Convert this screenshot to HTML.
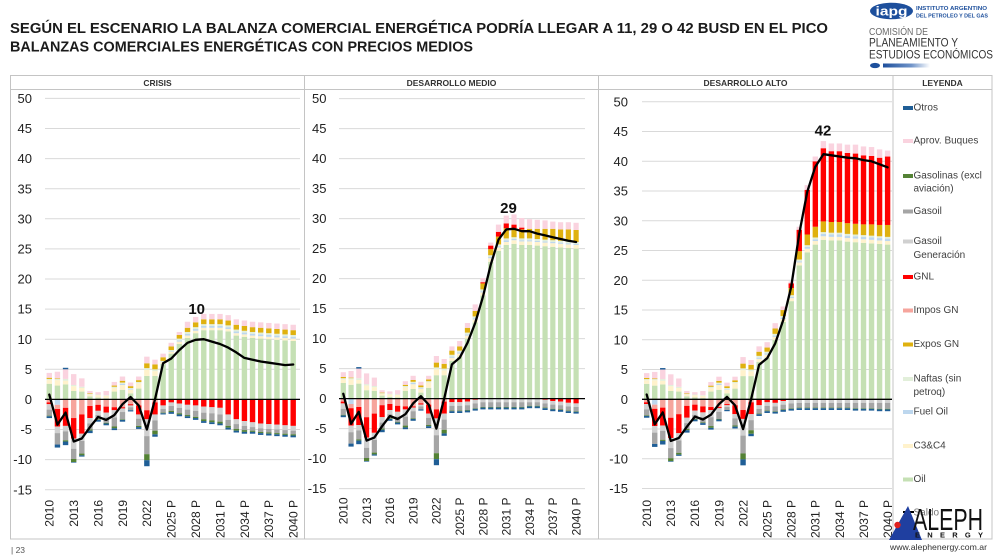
<!DOCTYPE html>
<html>
<head>
<meta charset="utf-8">
<style>
  html,body{margin:0;padding:0;background:#fff;}
  svg{display:block;font-family:"Liberation Sans",Arial,sans-serif;}
</style>
</head>
<body>
<svg id="root" xmlns="http://www.w3.org/2000/svg" width="1000" height="558" viewBox="0 0 1000 558">
  <rect x="0" y="0" width="1000" height="558" fill="#ffffff"/>

  <!-- Title -->
  <text x="10" y="33" font-size="14.5" font-weight="bold" fill="#1b1b1b" textLength="818" lengthAdjust="spacingAndGlyphs">SEGÚN EL ESCENARIO LA BALANZA COMERCIAL ENERGÉTICA PODRÍA LLEGAR A 11, 29 O 42 BUSD EN EL PICO</text>
  <text x="10" y="51.5" font-size="14.5" font-weight="bold" fill="#1b1b1b" textLength="463" lengthAdjust="spacingAndGlyphs">BALANZAS COMERCIALES ENERGÉTICAS CON PRECIOS MEDIOS</text>

  <!-- IAPG logo -->
  <ellipse cx="891.5" cy="11" rx="21.5" ry="8.3" fill="#1d4f9c"/>
  <text x="891.5" y="15.5" font-size="12.5" font-weight="bold" fill="#ffffff" text-anchor="middle" textLength="32" lengthAdjust="spacingAndGlyphs">iapg</text>
  <text x="916" y="10" font-size="5.6" font-weight="bold" fill="#1d4f9c" textLength="71" lengthAdjust="spacingAndGlyphs">INSTITUTO ARGENTINO</text>
  <text x="916" y="17.3" font-size="5.6" font-weight="bold" fill="#1d4f9c" textLength="72" lengthAdjust="spacingAndGlyphs">DEL PETROLEO Y DEL GAS</text>
  <text x="869" y="35" font-size="10.5" fill="#6a6a6a" textLength="59" lengthAdjust="spacingAndGlyphs">COMISIÓN DE</text>
  <text x="869" y="46.7" font-size="11.5" fill="#333333" textLength="89" lengthAdjust="spacingAndGlyphs">PLANEAMIENTO Y</text>
  <text x="869" y="58.7" font-size="11.5" fill="#333333" textLength="124" lengthAdjust="spacingAndGlyphs">ESTUDIOS ECONÓMICOS</text>
  <defs>
    <linearGradient id="gb" x1="0" x2="1" y1="0" y2="0">
      <stop offset="0" stop-color="#1d4f9c"/>
      <stop offset="0.6" stop-color="#6f93c8"/>
      <stop offset="1" stop-color="#ffffff"/>
    </linearGradient>
  </defs>
  <ellipse cx="875" cy="65.5" rx="5" ry="2.6" fill="#1d4f9c"/>
  <rect x="883" y="63.5" width="47" height="4" fill="url(#gb)"/>

  <!-- Table frame -->
  <g stroke="#c4c4c4" stroke-width="1" fill="none">
    <rect x="10.5" y="75.5" width="981.5" height="463.5"/>
    <line x1="10.5" y1="89.5" x2="992" y2="89.5"/>
    <line x1="304.5" y1="75.5" x2="304.5" y2="539"/>
    <line x1="598.5" y1="75.5" x2="598.5" y2="539"/>
    <line x1="893" y1="75.5" x2="893" y2="539"/>
  </g>
  <g font-size="8.5" font-weight="bold" fill="#333" text-anchor="middle">
    <text x="157.5" y="86">CRISIS</text>
    <text x="451.5" y="86">DESARROLLO MEDIO</text>
    <text x="745.5" y="86">DESARROLLO ALTO</text>
    <text x="942.5" y="86">LEYENDA</text>
  </g>

  <!-- chart graphics generated -->
  <g id="grid"></g>
  <g id="bars"></g>
  <g id="zero"></g>
  <g id="lines"></g>

  <!-- Y axis labels: left -->
  <g font-size="13" fill="#222" text-anchor="end">
    <text x="32" y="103.0">50</text>
    <text x="32" y="133.1">45</text>
    <text x="32" y="163.2">40</text>
    <text x="32" y="193.3">35</text>
    <text x="32" y="223.4">30</text>
    <text x="32" y="253.5">25</text>
    <text x="32" y="283.6">20</text>
    <text x="32" y="313.7">15</text>
    <text x="32" y="343.8">10</text>
    <text x="32" y="373.9">5</text>
    <text x="32" y="404.0">0</text>
    <text x="32" y="434.1">-5</text>
    <text x="32" y="464.2">-10</text>
    <text x="32" y="494.3">-15</text>
  </g>
  <!-- Y axis labels: middle -->
  <g font-size="13" fill="#222" text-anchor="end">
    <text x="326.5" y="103.2">50</text>
    <text x="326.5" y="133.2">45</text>
    <text x="326.5" y="163.2">40</text>
    <text x="326.5" y="193.2">35</text>
    <text x="326.5" y="223.2">30</text>
    <text x="326.5" y="253.2">25</text>
    <text x="326.5" y="283.2">20</text>
    <text x="326.5" y="313.2">15</text>
    <text x="326.5" y="343.2">10</text>
    <text x="326.5" y="373.2">5</text>
    <text x="326.5" y="403.2">0</text>
    <text x="326.5" y="433.2">-5</text>
    <text x="326.5" y="463.2">-10</text>
    <text x="326.5" y="493.2">-15</text>
  </g>
  <!-- Y axis labels: right -->
  <g font-size="13" fill="#222" text-anchor="end">
    <text x="628" y="106.4">50</text>
    <text x="628" y="136.2">45</text>
    <text x="628" y="165.9">40</text>
    <text x="628" y="195.7">35</text>
    <text x="628" y="225.4">30</text>
    <text x="628" y="255.2">25</text>
    <text x="628" y="284.9">20</text>
    <text x="628" y="314.7">15</text>
    <text x="628" y="344.4">10</text>
    <text x="628" y="374.2">5</text>
    <text x="628" y="403.9">0</text>
    <text x="628" y="433.7">-5</text>
    <text x="628" y="463.4">-10</text>
    <text x="628" y="493.2">-15</text>
  </g>

  <!-- X axis labels: left -->
  <g font-size="12" fill="#222" text-anchor="end">
    <text transform="translate(53.6,500) rotate(-90)">2010</text>
    <text transform="translate(78.0,500) rotate(-90)">2013</text>
    <text transform="translate(102.4,500) rotate(-90)">2016</text>
    <text transform="translate(126.8,500) rotate(-90)">2019</text>
    <text transform="translate(151.2,500) rotate(-90)">2022</text>
    <text transform="translate(175.6,500) rotate(-90)">2025 P</text>
    <text transform="translate(200.0,500) rotate(-90)">2028 P</text>
    <text transform="translate(224.4,500) rotate(-90)">2031 P</text>
    <text transform="translate(248.8,500) rotate(-90)">2034 P</text>
    <text transform="translate(273.2,500) rotate(-90)">2037 P</text>
    <text transform="translate(297.5,500) rotate(-90)">2040 P</text>
  </g>
  <!-- X axis labels: middle -->
  <g font-size="12" fill="#222" text-anchor="end">
    <text transform="translate(347.6,497.5) rotate(-90)">2010</text>
    <text transform="translate(370.9,497.5) rotate(-90)">2013</text>
    <text transform="translate(394.2,497.5) rotate(-90)">2016</text>
    <text transform="translate(417.4,497.5) rotate(-90)">2019</text>
    <text transform="translate(440.7,497.5) rotate(-90)">2022</text>
    <text transform="translate(464.0,497.5) rotate(-90)">2025 P</text>
    <text transform="translate(487.3,497.5) rotate(-90)">2028 P</text>
    <text transform="translate(510.6,497.5) rotate(-90)">2031 P</text>
    <text transform="translate(533.8,497.5) rotate(-90)">2034 P</text>
    <text transform="translate(557.1,497.5) rotate(-90)">2037 P</text>
    <text transform="translate(580.4,497.5) rotate(-90)">2040 P</text>
  </g>
  <!-- X axis labels: right -->
  <g font-size="12" fill="#222" text-anchor="end">
    <text transform="translate(651.0,500) rotate(-90)">2010</text>
    <text transform="translate(675.1,500) rotate(-90)">2013</text>
    <text transform="translate(699.2,500) rotate(-90)">2016</text>
    <text transform="translate(723.3,500) rotate(-90)">2019</text>
    <text transform="translate(747.4,500) rotate(-90)">2022</text>
    <text transform="translate(771.5,500) rotate(-90)">2025 P</text>
    <text transform="translate(795.6,500) rotate(-90)">2028 P</text>
    <text transform="translate(819.7,500) rotate(-90)">2031 P</text>
    <text transform="translate(843.8,500) rotate(-90)">2034 P</text>
    <text transform="translate(867.9,500) rotate(-90)">2037 P</text>
    <text transform="translate(891.9,500) rotate(-90)">2040 P</text>
  </g>

  <!-- Peak annotations -->
  <g font-size="15" font-weight="bold" fill="#111" text-anchor="middle">
    <text x="196.7" y="314">10</text>
    <text x="508.5" y="213">29</text>
    <text x="823" y="135.5">42</text>
  </g>

  <!-- Legend -->
  <g>
    <rect x="903" y="106" width="10" height="4" fill="#1f5e96"/>
    <rect x="903" y="139" width="10" height="4" fill="#fad3df"/>
    <rect x="903" y="174" width="10" height="4" fill="#548235"/>
    <rect x="903" y="209.5" width="10" height="4" fill="#a5a5a5"/>
    <rect x="903" y="239.5" width="10" height="4" fill="#d0d0d0"/>
    <rect x="903" y="275" width="10" height="4" fill="#ff0000"/>
    <rect x="903" y="308.5" width="10" height="4" fill="#f6a59d"/>
    <rect x="903" y="342.5" width="10" height="4" fill="#dfb10f"/>
    <rect x="903" y="377" width="10" height="4" fill="#e2efda"/>
    <rect x="903" y="410" width="10" height="4" fill="#bdd7ee"/>
    <rect x="903" y="444" width="10" height="4" fill="#fff2cc"/>
    <rect x="903" y="477.5" width="10" height="4" fill="#c5e0b4"/>
  </g>
  <g font-size="10" fill="#404040">
    <text x="913.5" y="110.5">Otros</text>
    <text x="913.5" y="143.5">Aprov. Buques</text>
    <text x="913.5" y="178.5">Gasolinas (excl</text>
    <text x="913.5" y="191.5">aviación)</text>
    <text x="913.5" y="214">Gasoil</text>
    <text x="913.5" y="244">Gasoil</text>
    <text x="913.5" y="258">Generación</text>
    <text x="913.5" y="279.5">GNL</text>
    <text x="913.5" y="313">Impos GN</text>
    <text x="913.5" y="347">Expos GN</text>
    <text x="913.5" y="381.5">Naftas (sin</text>
    <text x="913.5" y="395">petroq)</text>
    <text x="913.5" y="414.5">Fuel Oil</text>
    <text x="913.5" y="448.5">C3&amp;C4</text>
    <text x="913.5" y="482">Oil</text>
    <text x="913.5" y="515.5" fill="#777">Saldo</text>
  </g>
  <line x1="903" y1="512" x2="914" y2="512" stroke="#000" stroke-width="2"/>

  <!-- Aleph Energy logo -->
  <polygon points="889,540 922,540 908,506" fill="#1f3fa0"/>
  <circle cx="897.5" cy="525" r="3.2" fill="#e0201e"/>
  <text x="913" y="530" font-size="31" fill="#111" textLength="70" lengthAdjust="spacingAndGlyphs">ALEPH</text>
  <text x="915" y="537.5" font-size="7.5" font-weight="bold" fill="#111" textLength="68" lengthAdjust="spacing">ENERGY</text>

  <!-- Footer -->
  <text x="11" y="553" font-size="8.5" fill="#555">| 23</text>
  <text x="890" y="550" font-size="8.5" fill="#333" textLength="97" lengthAdjust="spacingAndGlyphs">www.alephenergy.com.ar</text>
</svg>

<script>
(function(){
  var NS='http://www.w3.org/2000/svg';
  function el(parent,tag,attrs){var e=document.createElementNS(NS,tag);for(var a in attrs)e.setAttribute(a,attrs[a]);parent.appendChild(e);return e;}
  var C={oil:'#c5e0b4',c3:'#fff2cc',fuel:'#bdd7ee',naf:'#e2efda',exp:'#dfb10f',imp:'#f6a59d',gnl:'#ff0000',ggen:'#d0d0d0',gas:'#a5a5a5',gsl:'#548235',apr:'#fad3df',otr:'#1f5e96'};
  function F(n,v){var a=[];for(var i=0;i<n;i++)a.push(v);return a;}

  var HP={
    oil:[2.6,2.3,2.5,1.4,1.3,0.5,0.3,0.2,1.3,1.6,1.0,1.8,3.9,3.9],
    c3:[0.6,0.9,0.6,0.8,0.6,0.3,0.4,0.4,0.6,0.8,0.6,0.9,1.0,0.8],
    fuel:[0,0,0,0,0,0,0,0,0,0.2,0.1,0,0,0],
    naf:[0.2,0.2,0.3,0.2,0.2,0.1,0.1,0.1,0.2,0.2,0.2,0.2,0.3,0.3],
    exp:[0.2,0.1,0,0,0,0.1,0,0,0.2,0.3,0.3,0.3,0.8,0.8],
    gnl:F(14,0),
    apr:[0.8,1.1,1.6,1.8,1.4,0.4,0.4,0.7,0.6,0.7,0.6,0.6,1.1,0.8],
    otr:[0,0,0.25,0,0,0,0,0,0,0,0,0,0,0]
  };
  var HN={
    fuel:[0,-0.9,-0.1,-0.1,0,0,0,0,0,0,0,0,0,0],
    imp:[-0.5,-0.7,-1.3,-3.0,-2.5,-1.1,-0.9,-1.2,-1.3,-1.3,-0.8,-1.0,-1.8,-0.5],
    gnl:[-0.3,-2.9,-3.0,-3.4,-3.2,-2.0,-1.0,-1.0,-0.5,-0.2,-0.2,-1.5,-1.5,-2.0],
    ggen:[-0.9,-1.1,-0.9,-1.7,-1.2,-0.9,-0.7,-0.8,-1.2,-0.6,-0.3,-0.7,-2.8,-1.0],
    gas:[-1.0,-1.9,-1.5,-1.7,-2.1,-1.0,-0.7,-0.9,-1.5,-1.2,-0.5,-1.2,-3.0,-1.7],
    gsl:[-0.1,0,-0.2,-0.5,-0.3,-0.2,-0.1,-0.1,-0.3,-0.1,0,-0.2,-1.0,-0.6],
    otr:[-0.3,-0.5,-0.6,-0.1,-0.2,-0.4,-0.3,-0.3,-0.3,-0.3,-0.2,-0.3,-1.0,-0.4]
  };
  var HL=[0.8,-4.2,-2.2,-7.0,-6.5,-4.6,-2.9,-3.4,-2.6,-0.8,0.4,-1.0,-5.0,0.0];

  var PK=['oil','c3','fuel','naf','exp','gnl'];
  function build(spec){
    var pos={},neg={};
    var apr=spec.top.map(function(t,i){var s=0;PK.forEach(function(k){if(spec.pos[k])s+=spec.pos[k][i];});return Math.max(0.2,t-s);});
    PK.forEach(function(k){pos[k]=HP[k].concat(spec.pos[k]||F(17,0));});
    pos.apr=HP.apr.concat(apr);
    pos.otr=HP.otr.concat(F(17,0));
    ['fuel','imp','gnl','ggen','gas','gsl','otr'].forEach(function(k){neg[k]=HN[k].concat(spec.neg[k]||F(17,0));});
    return {pos:pos,neg:neg,line:HL.concat(spec.line)};
  }

  var crisis=build({
    pos:{
      oil:[5.9,7.6,9.2,10.2,11.0,11.5,11.5,11.5,11.3,10.6,10.4,10.2,10.1,10.0,9.9,9.8,9.7],
      c3:[0.3,0.3].concat(F(15,0.4)),
      fuel:[0,0.1,0.2].concat(F(14,0.3)),
      naf:[0.2,0.2].concat(F(15,0.3)),
      exp:[0.6,0.6,0.6,0.7].concat(F(13,0.8))
    },
    top:[7.6,9.4,11.2,12.9,13.7,14.2,14.2,14.2,14.0,13.3,13.1,12.9,12.8,12.7,12.6,12.5,12.4],
    neg:{
      gnl:[-1.0,-0.5,-0.7,-0.9,-1.0,-1.2,-1.3,-1.4,-2.5,-3.3,-3.6,-3.8,-4.0,-4.1,-4.2,-4.3,-4.4],
      ggen:[-0.6,-0.6,-0.7,-0.8,-0.9,-1.0,-1.0,-1.1,-0.9,-0.8,-0.8,-0.8,-0.8,-0.8,-0.8,-0.8,-0.8],
      gas:[-0.6,-0.8,-0.9,-0.9,-1.0,-1.1,-1.2,-1.2,-1.0,-0.8,-0.7,-0.6,-0.6,-0.6,-0.6,-0.6,-0.6],
      gsl:[-0.1,-0.2,-0.2,-0.2,-0.2,-0.3,-0.3,-0.3,-0.3,-0.3,-0.3,-0.2,-0.2,-0.2,-0.2,-0.2,-0.2],
      otr:[-0.2].concat(F(16,-0.3))
    },
    line:[6.0,6.8,8.2,9.4,9.9,10.0,9.6,9.2,8.6,7.8,6.9,6.6,6.3,6.1,5.9,5.7,5.8]
  });

  var medio=build({
    pos:{
      oil:[6.3,7.0,10.0,12.7,17.2,22.8,24.6,25.6,25.8,25.6,25.6,25.5,25.4,25.3,25.2,25.1,25.0],
      c3:[0.5,0.5,0.5,0.5,0.5,0.6,0.6,0.5,0.6,0.6,0.6,0.6,0.6,0.6,0.6,0.6,0.6],
      fuel:[0.2,0.2,0.2,0.2,0.2,0.2,0.2,0.3,0.2,0.2,0.2,0.2,0.2,0.2,0.2,0.2,0.2],
      naf:F(17,0.3),
      exp:[0.7,0.7,0.8,0.9,1.0,1.0,1.3,1.7,1.5,1.5,1.6,1.7,1.8,1.9,1.9,2.0,2.0],
      gnl:[0,0,0,0,0.2,0.6,0.8,0.8,0.6,0.3,0,0,0,0,0,0,0]
    },
    top:[8.7,9.6,12.6,15.7,20.1,26.0,29.0,30.5,30.7,30.1,29.9,29.8,29.7,29.5,29.4,29.4,29.3],
    neg:{
      gnl:[-0.6,-0.6,-0.5,-0.2,0,0,0,0,0,0,0,0,-0.2,-0.4,-0.5,-0.7,-0.8],
      ggen:F(17,-0.6),
      gas:[-0.8,-0.8,-0.8,-0.8,-0.8,-0.8,-0.8,-0.8,-0.8,-0.8,-0.6,-0.6,-0.7,-0.7,-0.7,-0.7,-0.7],
      gsl:F(17,-0.1),
      otr:F(17,-0.3)
    },
    line:[5.7,6.8,9.3,12.6,17.0,22.3,26.5,28.2,28.3,27.9,27.9,27.5,27.2,26.9,26.6,26.3,26.1]
  });

  var alto=build({
    pos:{
      oil:[6.3,7.0,10.0,13.0,16.5,22.5,24.7,26.0,26.8,26.7,26.7,26.5,26.4,26.3,26.2,26.1,26.0],
      c3:[0.5,0.5,0.5,0.5,0.5,0.5].concat(F(11,0.6)),
      fuel:[0.2,0.2,0.2,0.2,0.2,0.2,0.3,0.3].concat(F(9,0.4)),
      naf:F(17,0.3),
      exp:[0.7,0.7,0.9,1.0,1.2,1.4,1.8,1.8,1.8,1.8,1.8,1.8,1.8,1.8,1.9,1.9,2.0],
      gnl:[0,0,0,0,0.8,3.6,7.5,11.0,12.3,11.9,11.9,11.8,11.8,11.6,11.5,11.3,11.5]
    },
    top:[8.9,9.6,12.8,15.6,19.8,29.0,36.0,40.8,43.4,43.0,43.0,42.8,42.8,42.5,42.4,42.0,41.8],
    neg:{
      gnl:[-1.0,-0.5,-0.6,-0.3,-0.1,0,0,0,0,0,0,0,0,0,0,0,0],
      ggen:F(17,-0.6),
      gas:[-0.8,-0.8,-0.8,-0.8,-0.8,-0.8,-0.8,-0.8,-0.8,-0.8,-0.8,-0.8,-0.9,-0.9,-0.9,-1.0,-1.0],
      gsl:F(17,-0.1),
      otr:F(17,-0.3)
    },
    line:[5.8,6.9,9.4,13.3,18.9,27.9,34.9,39.1,41.2,41.0,40.8,40.6,40.5,40.2,40.0,39.5,39.0]
  });

  var panels=[
    {d:crisis,x0:49.3,dx:8.13,bw:5.4,y0:399.4,k:6.02,g1:45,g2:300},
    {d:medio,x0:343.3,dx:7.76,bw:5.2,y0:398.6,k:6.0,g1:339,g2:585},
    {d:alto,x0:646.7,dx:8.03,bw:5.4,y0:399.3,k:5.95,g1:642,g2:892}
  ];

  var gGrid=document.getElementById('grid'),gBars=document.getElementById('bars'),gZero=document.getElementById('zero'),gLines=document.getElementById('lines');
  var POS=['oil','c3','fuel','naf','exp','gnl','apr','otr'];
  var NEG=['fuel','imp','gnl','ggen','gas','gsl','otr'];

  panels.forEach(function(P){
    for(var v=-15;v<=50;v+=5){
      if(v===0)continue;
      var y=(P.y0-v*P.k).toFixed(2);
      el(gGrid,'line',{x1:P.g1,x2:P.g2,y1:y,y2:y,stroke:'#d9d9d9','stroke-width':1});
    }
    for(var i=0;i<31;i++){
      var x=P.x0+i*P.dx-P.bw/2;
      var acc=0;
      POS.forEach(function(k){
        var val=P.d.pos[k]?P.d.pos[k][i]:0; if(!val)return;
        el(gBars,'rect',{x:x.toFixed(2),y:(P.y0-(acc+val)*P.k).toFixed(2),width:P.bw,height:(val*P.k).toFixed(2),fill:C[k]});
        acc+=val;
      });
      acc=0;
      NEG.forEach(function(k){
        var val=P.d.neg[k]?P.d.neg[k][i]:0; if(!val)return;
        el(gBars,'rect',{x:x.toFixed(2),y:(P.y0-acc*P.k).toFixed(2),width:P.bw,height:(-val*P.k).toFixed(2),fill:C[k]});
        acc+=val;
      });
    }
    el(gZero,'line',{x1:P.g1,x2:P.g2,y1:P.y0,y2:P.y0,stroke:'#000','stroke-width':1.3});
    var pts=P.d.line.map(function(v,i){return (P.x0+i*P.dx).toFixed(1)+','+(P.y0-v*P.k).toFixed(1);}).join(' ');
    el(gLines,'polyline',{points:pts,fill:'none',stroke:'#000','stroke-width':2.3,'stroke-linejoin':'round','stroke-linecap':'round'});
  });
})();
</script>
</body>
</html>
